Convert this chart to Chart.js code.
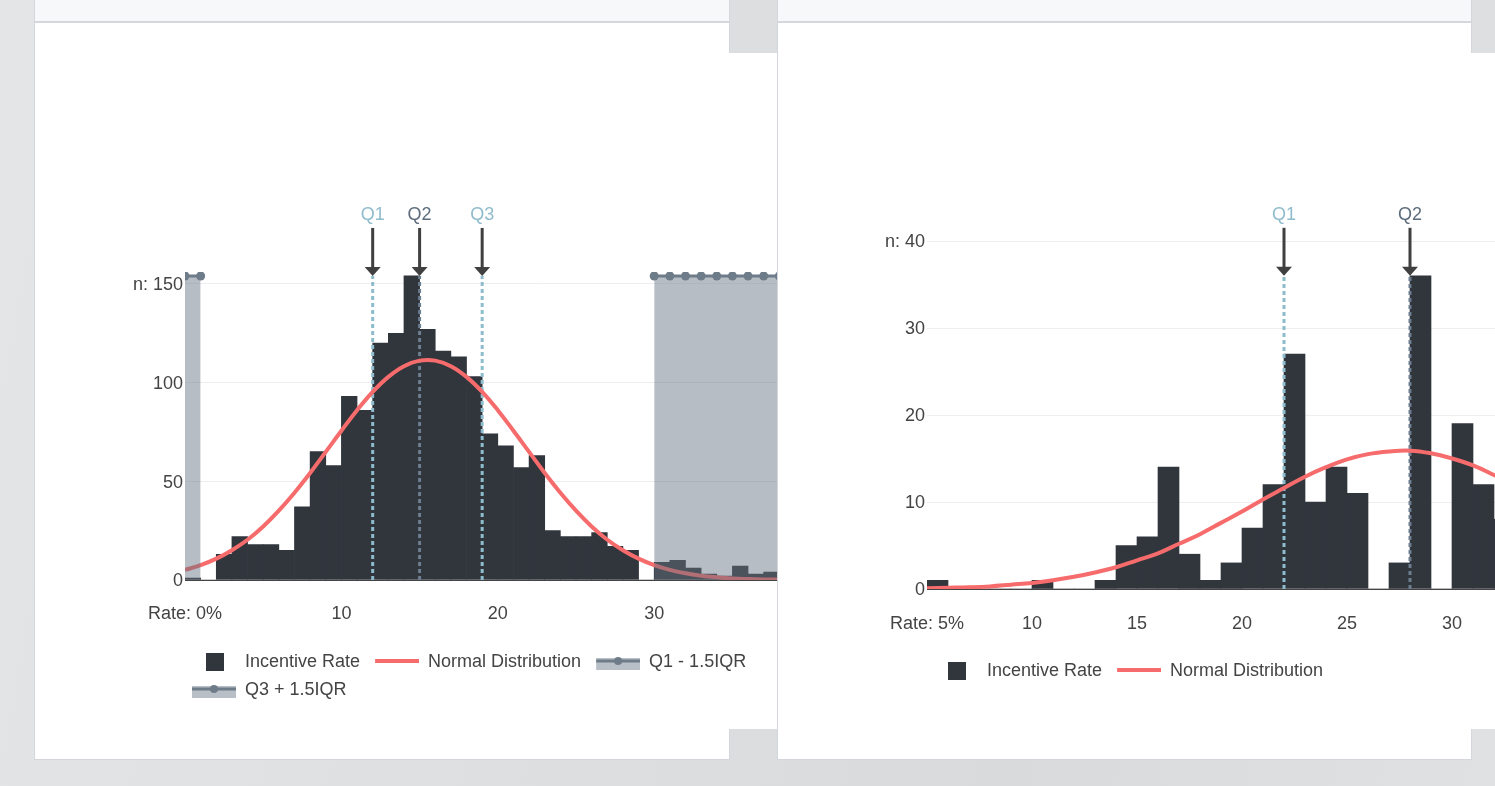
<!DOCTYPE html>
<html>
<head>
<meta charset="utf-8">
<title>Incentive Rate distribution</title>
<script src="https://cdn.jsdelivr.net/npm/chart.js@4.4.1/dist/chart.umd.min.js"></script>
<style>
html,body{margin:0;padding:0;}
body{width:1495px;height:786px;overflow:hidden;position:relative;
 background:linear-gradient(100deg,#e4e5e7 0%,#dddee0 45%,#d9dadc 70%,#e0e1e3 100%);}
.card{position:absolute;top:-10px;height:770px;box-sizing:border-box;background:#fff;border:1px solid #d3d6da;}
.hdr{height:30px;background:#f7f8fa;border-bottom:2px solid #d4d8dd;}
.chart{position:absolute;top:53px;height:676px;background:#fff;}
#cardL{left:34px;width:696px;z-index:1;}
#chartL{left:35px;width:874px;z-index:2;}
#cardR{left:777px;width:695px;z-index:3;}
#chartR{left:778px;width:904px;z-index:4;}
canvas{display:block;}
</style>
</head>
<body>
<div class="card" id="cardL"><div class="hdr"></div></div>
<div class="chart" id="chartL"><canvas id="cL" width="874" height="676"></canvas></div>
<div class="card" id="cardR"><div class="hdr"></div></div>
<div class="chart" id="chartR"><canvas id="cR" width="904" height="676"></canvas></div>
<script>
// ---------- Left panel data ----------
const leftBinStarts = [0,1,2,3,4,5,6,7,8,9,10,11,12,13,14,15,16,17,18,19,20,21,22,23,24,25,26,27,28,29,30,31,32,33,34,35,36,37];
const leftCounts    = [1,0,13,22,18,18,15,37,65,58,93,86,120,125,154,127,116,113,103,74,68,57,63,25,22,22,24,17,15,0,9,10,6,3,2,7,3,4];
const leftCurveX    = [0,1,2,3,4,5,6,7,8,9,10,11,12,13,14,15,16,17,18,19,20,21,22,23,24,25,26,27,28,29,30,31,32,33,34,35,36,37,38,39,40];
const leftCurveY    = [5.1,7.5,10.8,15.1,20.4,27.1,35.1,44.2,54.2,64.9,75.6,86.0,95.3,102.9,108.3,111.1,111.1,108.3,102.9,95.3,86.0,75.6,64.9,54.2,44.2,35.1,27.1,20.4,15.1,10.8,7.5,5.1,3.4,2.2,1.4,0.8,0.5,0.3,0.2,0.1,0.1];
const leftQuartiles = [12,15,19];
const leftQLabels   = ['Q1','Q2','Q3'];
const leftLowFenceX  = [0,1];
const leftHighFenceX = [30,31,32,33,34,35,36,37,38,39,40];
const leftFenceTop   = 154;
const leftXTicks = [0,10,20,30,40];
const leftYTicks = [0,50,100,150];

// ---------- Right panel data ----------
const rightBinStarts = [5,6,7,8,9,10,11,12,13,14,15,16,17,18,19,20,21,22,23,24,25,26,27,28,29,30,31,32];
const rightCounts    = [1,0,0,0,0,1,0,0,1,5,6,14,4,1,3,7,12,27,10,14,11,0,3,36,0,19,12,8];
const rightCurveX    = [5,6,7,8,9,10,11,12,13,14,15,16,17,18,19,20,21,22,23,24,25,26,27,28,29,30,31,32,33,34,35];
const rightCurveY    = [0.1,0.15,0.2,0.3,0.5,0.7,1.0,1.4,1.9,2.5,3.3,4.1,5.2,6.3,7.6,8.9,10.3,11.6,12.9,14.0,14.9,15.5,15.8,15.9,15.6,15.0,14.2,13.1,11.9,10.6,9.2];
const rightQuartiles = [22,28];
const rightQLabels   = ['Q1','Q2'];
const rightQTop      = 36;
const rightXTicks = [5,10,15,20,25,30,35];
const rightYTicks = [0,10,20,30,40];

// ---------- styles ----------
const FONT = '"Liberation Sans", Arial, sans-serif';
const BAR = '#31353c';
const RED = '#f66b6b';
const FENCE_LINE = '#6e7c8a';
const FENCE_FILL = 'rgba(103,115,130,0.47)';
const Q_LIGHT = '#8dbccd';
const Q_DARK = '#6c7e8f';
const QLBL_LIGHT = '#8fbccd';
const QLBL_DARK = '#5d6d7c';

Chart.defaults.font.family = FONT;
Chart.defaults.font.size = 18;
Chart.defaults.color = '#444';

function sym(draw){ const c=document.createElement('canvas'); c.width=49; c.height=22; draw(c.getContext('2d')); return c; }
const symBar = sym(g=>{ g.fillStyle=BAR; g.fillRect(19,2,18,18); });
const symLine = sym(g=>{ g.fillStyle=RED; g.fillRect(5,8,44,4); });
const symFence = sym(g=>{ g.fillStyle='#b8bfc7'; g.fillRect(5,7,44,12); g.fillStyle=FENCE_LINE; g.fillRect(5,8.5,44,3); g.beginPath(); g.arc(27,10,4,0,Math.PI*2); g.fill(); });

function quartilePlugin(values, labels, top){
  return {
    id:'quartileMarks',
    afterDatasetsDraw(chart){
      const ctx=chart.ctx, xs=chart.scales.x, ys=chart.scales.y;
      const tip=ys.getPixelForValue(top);
      values.forEach((q,i)=>{
        const px=xs.getPixelForValue(q);
        ctx.save();
        ctx.fillStyle='#404040';
        ctx.fillRect(px-1.5, tip-48, 3, 41);
        ctx.beginPath(); ctx.moveTo(px-8, tip-9); ctx.lineTo(px+8, tip-9); ctx.lineTo(px, tip); ctx.closePath(); ctx.fill();
        ctx.fillStyle = labels[i]==='Q2' ? QLBL_DARK : QLBL_LIGHT;
        ctx.font='18px '+FONT; ctx.textAlign='center'; ctx.textBaseline='middle';
        ctx.fillText(labels[i], px, tip-61);
        ctx.restore();
      });
    }
  };
}
// legend rows start a little left of the plot area, as in the reference
function legendShift(offset){
  return { id:'legendShift', afterLayout(chart){ if (chart.legend) chart.legend.left = chart.chartArea.left - offset; } };
}

function qLineDatasets(values, labels, top){
  return values.map((q,i)=>({
    type:'line', label:labels[i], order:2,
    data:[{x:q,y:0},{x:q,y:top}],
    borderColor: labels[i]==='Q2' ? Q_DARK : Q_LIGHT,
    borderWidth:3, borderDash:[4,3], pointRadius:0, fill:false, tension:0
  }));
}

function fenceDataset(label, xs, top){
  return { type:'line', label, order:0, data: xs.map(x=>({x, y:top})),
    fill:'origin', backgroundColor:FENCE_FILL, borderColor:FENCE_LINE, borderWidth:3,
    pointRadius:4.5, pointBackgroundColor:FENCE_LINE, pointBorderWidth:0, tension:0 };
}

function build(canvasId, p){
  const datasets = [
    { type:'bar', label:'Incentive Rate', order:3,
      data: p.bins.map((b,i)=>({x:b+0.5, y:p.counts[i]})),
      backgroundColor:BAR, borderWidth:0, barPercentage:1, categoryPercentage:1, grouped:false },
    { type:'line', label:'Normal Distribution', order:1,
      data: p.curveX.map((x,i)=>({x, y:p.curveY[i]})),
      borderColor:RED, borderWidth:4, pointRadius:0, fill:false, tension:0.4 },
    ...qLineDatasets(p.q, p.qLabels, p.qTop),
    ...p.fences
  ];
  const legendList = p.legend;
  return new Chart(document.getElementById(canvasId), {
    type:'bar',
    data:{ datasets },
    plugins:[quartilePlugin(p.q, p.qLabels, p.qTop), legendShift(8)],
    options:{
      responsive:false, animation:false, devicePixelRatio:1, events:[],
      layout:{ padding:p.padding },
      plugins:{
        tooltip:{enabled:false},
        legend:{ position:'bottom', align:'start', fullSize:false,
          labels:{ usePointStyle:true, pointStyleWidth:49, boxHeight:18, padding:10, color:'#444',
            font:{size:18, family:FONT},
            generateLabels: ()=> legendList.map(it=>({ text:it[0], pointStyle:it[1], fillStyle:'rgba(0,0,0,0)', strokeStyle:'rgba(0,0,0,0)', lineWidth:0, hidden:false, datasetIndex:it[2], fontColor:'#444' })) } }
      },
      scales:{
        x:{ type:'linear', min:p.xRange[0], max:p.xRange[1], offset:false,
          grid:{display:false, offset:false, drawTicks:false},
          border:{display:true, color:'#444', width:1},
          afterBuildTicks: s=>{ s.ticks = p.xTicks.map(v=>({value:v})); },
          afterFit: s=>{ s.height = 63; },
          ticks:{ autoSkip:false, maxRotation:0, padding:p.xPad, color:'#444', font:{size:18},
            callback:(v,i)=> i===0 ? 'Rate: '+v+'%' : String(v) } },
        y:{ type:'linear', min:p.yRange[0], max:p.yRange[1],
          grid:{ drawTicks:false, lineWidth:1, color: c => c.tick && c.tick.value===0 ? 'rgba(0,0,0,0)' : '#eeeeee' },
          border:{display:false},
          afterBuildTicks: s=>{ s.ticks = p.yTicks.map(v=>({value:v})); },
          afterFit: s=>{ s.width = 58; },
          ticks:{ padding:2, labelOffset:1.5, color:'#444', font:{size:18},
            callback:(v,i,t)=> i===t.length-1 ? 'n: '+v : String(v) } }
      }
    }
  });
}

build('cL', {
  bins:leftBinStarts, counts:leftCounts, curveX:leftCurveX, curveY:leftCurveY,
  q:leftQuartiles, qLabels:leftQLabels, qTop:leftFenceTop,
  fences:[ fenceDataset('Q1 - 1.5IQR', leftLowFenceX, leftFenceTop), fenceDataset('Q3 + 1.5IQR', leftHighFenceX, leftFenceTop) ],
  legend:[['Incentive Rate',symBar,0],['Normal Distribution',symLine,1],['Q1 - 1.5IQR',symFence,5],['Q3 + 1.5IQR',symFence,6]],
  xRange:[0,45], yRange:[0,156], xTicks:leftXTicks, yTicks:leftYTicks, xPad:23,
  padding:{left:92, right:20.2, top:219, bottom:20}
});

build('cR', {
  bins:rightBinStarts, counts:rightCounts, curveX:rightCurveX, curveY:rightCurveY,
  q:rightQuartiles, qLabels:rightQLabels, qTop:rightQTop,
  fences:[],
  legend:[['Incentive Rate',symBar,0],['Normal Distribution',symLine,1]],
  xRange:[5,40], yRange:[0,40], xTicks:rightXTicks, yTicks:rightYTicks, xPad:24,
  padding:{left:91, right:20, top:188, bottom:39}
});
</script>
</body>
</html>
